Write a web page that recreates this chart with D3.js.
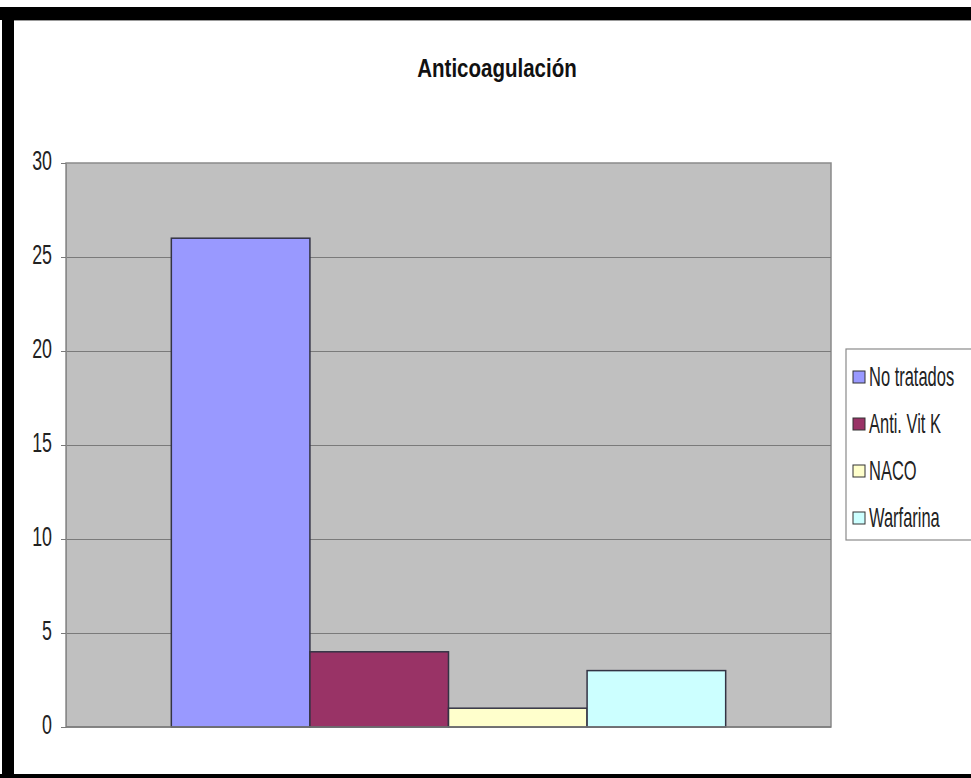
<!DOCTYPE html>
<html>
<head>
<meta charset="utf-8">
<script src="https://cdn.jsdelivr.net/npm/d3@7"></script>
<style>
  html, body { margin: 0; padding: 0; background: #fff; }
  svg { display: block; font-family: "Liberation Sans", Arial, sans-serif; }
</style>
</head>
<body>
<svg id="chart" width="971" height="778"></svg>
<script>
// chart data
var title = "Anticoagulación";
var categories = ["Anticoagulación"];
var seriesNames = ["No tratados", "Anti. Vit K", "NACO", "Warfarina"];
var seriesValues = [26, 4, 1, 3];
var seriesColors = ["#9999ff", "#993366", "#ffffcc", "#ccffff"];
var yTicks = [0, 5, 10, 15, 20, 25, 30];

(function(){
    var svg = d3.select("#chart");
    var W = 971, H = 778;
    var margin = { top: 163, left: 66, right: 140, bottom: 51 };
    var w = W - margin.left - margin.right;
    var h = H - margin.top - margin.bottom;

    // black frame (right side is cut off in the original)
    svg.append("rect").attr("x", 0).attr("y", 7).attr("width", W).attr("height", 13).attr("fill", "#000");
    svg.append("rect").attr("x", 2).attr("y", 7).attr("width", 12).attr("height", H).attr("fill", "#000");
    svg.append("rect").attr("x", 0).attr("y", 774).attr("width", W).attr("height", 6).attr("fill", "#000");
    svg.append("line").attr("x1", 14).attr("x2", W).attr("y1", 20.5).attr("y2", 20.5).attr("stroke", "#999");

    // squeezed text helper: the original uses a narrow face
    function squeezed(sel, x, y, sx){
        return sel.attr("transform", "translate(" + x + "," + y + ") scale(" + sx + ",1)");
    }

    squeezed(svg.append("text"), 497, 77, 0.82)
        .attr("text-anchor", "middle")
        .attr("font-size", 25)
        .attr("font-weight", "bold")
        .attr("fill", "#111")
        .text(title);

    var g = svg.append("g").attr("transform", "translate(" + margin.left + "," + margin.top + ")");

    var y = d3.scaleLinear().domain([0, 30]).range([h, 0]);
    var x0 = d3.scaleBand().domain(categories).range([0, w]);
    var x1 = d3.scaleBand().domain(seriesNames).range([0, x0.bandwidth()])
        .paddingInner(0).paddingOuter(0.76);

    g.append("rect").attr("width", w).attr("height", h)
        .attr("fill", "#c0c0c0").attr("stroke", "#8a8a8a").attr("stroke-width", 1.5);

    // gridlines
    g.selectAll(".grid").data(yTicks.filter(function(t){ return t > 0 && t < 30; }))
        .enter().append("line")
        .attr("x1", 0).attr("x2", w)
        .attr("y1", function(d){ return Math.round(y(d)) + 0.5; })
        .attr("y2", function(d){ return Math.round(y(d)) + 0.5; })
        .attr("stroke", "#7a7a7a").attr("stroke-width", 1.2);

    // y axis
    var yAxis = g.append("g").call(d3.axisLeft(y).tickValues(yTicks).tickSize(5).tickFormat(""));
    yAxis.select(".domain").attr("stroke", "#8a8a8a");
    yAxis.selectAll(".tick line").attr("stroke", "#7a7a7a");
    yTicks.forEach(function(t){
        squeezed(g.append("text"), -14, y(t) + 7, 0.66)
            .attr("text-anchor", "end")
            .attr("font-size", 27)
            .attr("fill", "#222")
            .text(t);
    });

    // bars
    var cat = categories[0];
    g.selectAll(".bar").data(seriesNames).enter().append("rect")
        .attr("x", function(d){ return x0(cat) + x1(d); })
        .attr("y", function(d, i){ return y(seriesValues[i]); })
        .attr("width", x1.bandwidth())
        .attr("height", function(d, i){ return h - y(seriesValues[i]); })
        .attr("fill", function(d, i){ return seriesColors[i]; })
        .attr("stroke", "#333344").attr("stroke-width", 1.5);

    // x axis line
    g.append("line").attr("x1", 0).attr("x2", w).attr("y1", h).attr("y2", h)
        .attr("stroke", "#7a7a7a").attr("stroke-width", 1.5);

    // legend
    var lg = svg.append("g").attr("transform", "translate(846,349)");
    lg.append("rect").attr("width", 140).attr("height", 191)
        .attr("fill", "#fff").attr("stroke", "#8a8a8a").attr("stroke-width", 1.2);
    seriesNames.forEach(function(name, i){
        var cy = 28 + i * 47;
        lg.append("rect").attr("x", 7).attr("y", cy - 6).attr("width", 12).attr("height", 12)
            .attr("fill", seriesColors[i]).attr("stroke", "#333").attr("stroke-width", 1);
        squeezed(lg.append("text"), 23, cy + 9, 0.61)
            .attr("font-size", 27)
            .attr("fill", "#222")
            .text(name);
    });
})();
</script>
</body>
</html>
